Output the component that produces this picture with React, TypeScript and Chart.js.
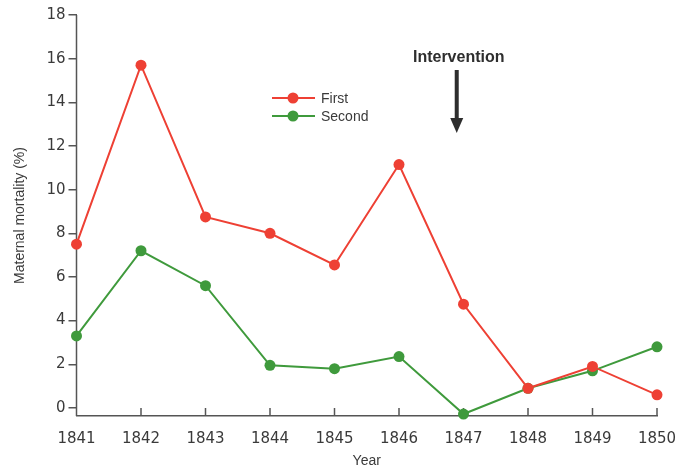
import React, { useEffect, useRef } from "react";
import { Chart, registerables } from "chart.js";

Chart.register(...registerables);

const years = ["1841", "1842", "1843", "1844", "1845", "1846", "1847", "1848", "1849", "1850"];
const firstClinic = [7.5, 15.7, 8.75, 8.0, 6.55, 11.15, 4.75, 0.9, 1.9, 0.6];
const secondClinic = [3.3, 7.2, 5.6, 1.95, 1.8, 2.35, -0.28, 0.9, 1.7, 2.8];
const yTicks = [0, 2, 4, 6, 8, 10, 12, 14, 16, 18];
const seriesNames = ["First", "Second"];
const seriesColors = ["#EE4034", "#3F9A3C"];
const interventionLabel = "Intervention";
const interventionIndex = 5.895;
const yTitle = "Maternal mortality (%)";
const xTitle = "Year";

const AXIS = "#555555";
const TEXT = "#3a3a3a";

const decorPlugin = {
  id: "decor",
  beforeDatasetsDraw(chart: any) {
    const { ctx, chartArea, scales } = chart;
    const xs = scales.x;
    const ys = scales.y;
    ctx.save();
    ctx.strokeStyle = AXIS;
    ctx.lineWidth = 1.5;
    const yl = chartArea.left;
    ctx.beginPath();
    ctx.moveTo(yl, ys.getPixelForValue(yTicks[yTicks.length - 1]));
    ctx.lineTo(yl, ys.getPixelForValue(yTicks[0]));
    ctx.stroke();
    years.forEach((_, i) => {
      const x = xs.getPixelForValue(i);
      ctx.beginPath();
      ctx.moveTo(x, chartArea.bottom);
      ctx.lineTo(x, chartArea.bottom - 8);
      ctx.stroke();
    });
    ctx.restore();
  },
  afterDraw(chart: any) {
    const { ctx, scales } = chart;
    const xs = scales.x;
    ctx.save();
    const legendX = 272;
    const legendY = [98, 116];
    seriesNames.forEach((name, i) => {
      const y = legendY[i];
      ctx.strokeStyle = seriesColors[i];
      ctx.lineWidth = 2;
      ctx.beginPath();
      ctx.moveTo(legendX, y);
      ctx.lineTo(legendX + 43, y);
      ctx.stroke();
      ctx.fillStyle = seriesColors[i];
      ctx.beginPath();
      ctx.arc(legendX + 21, y, 5.5, 0, Math.PI * 2);
      ctx.fill();
      ctx.fillStyle = TEXT;
      ctx.font = "14px 'Liberation Sans', Arial, sans-serif";
      ctx.textAlign = "left";
      ctx.textBaseline = "middle";
      ctx.fillText(name, legendX + 49, y + 1);
    });
    const ax = xs.getPixelForValue(interventionIndex);
    ctx.fillStyle = "#2e2e2e";
    ctx.font = "bold 16px 'Liberation Sans', Arial, sans-serif";
    ctx.textAlign = "center";
    ctx.textBaseline = "middle";
    ctx.fillText(interventionLabel, ax + 2, 58);
    ctx.fillRect(ax - 2, 70, 4, 49);
    ctx.beginPath();
    ctx.moveTo(ax - 6.5, 118);
    ctx.lineTo(ax + 6.5, 118);
    ctx.lineTo(ax, 133);
    ctx.closePath();
    ctx.fill();
    ctx.restore();
  },
};

export default function App() {
  const ref = useRef<HTMLCanvasElement | null>(null);
  useEffect(() => {
    if (!ref.current) return;
    const chart = new Chart(ref.current, {
      type: "line",
      data: {
        labels: years,
        datasets: [
          {
            label: seriesNames[0],
            data: firstClinic,
            borderColor: seriesColors[0],
            backgroundColor: seriesColors[0],
            borderWidth: 2,
            pointRadius: 5.5,
            pointBorderWidth: 0,
            tension: 0,
            clip: false as any,
          },
          {
            label: seriesNames[1],
            data: secondClinic,
            borderColor: seriesColors[1],
            backgroundColor: seriesColors[1],
            borderWidth: 2,
            pointRadius: 5.5,
            pointBorderWidth: 0,
            tension: 0,
            clip: false as any,
          },
        ],
      },
      options: {
        animation: false,
        responsive: true,
        maintainAspectRatio: false,
        layout: { padding: { top: 15, right: 23, left: 0, bottom: 0 } },
        plugins: { legend: { display: false }, tooltip: { enabled: false } },
        scales: {
          x: {
            type: "category",
            offset: false,
            grid: { display: false },
            border: { display: true, color: AXIS, width: 1.5 },
            ticks: {
              color: TEXT,
              font: { family: "'DejaVu Sans', sans-serif", size: 15 },
              padding: 6,
              maxRotation: 0,
              autoSkip: false,
            },
            title: {
              display: true,
              text: xTitle,
              color: TEXT,
              font: { family: "'Liberation Sans', Arial, sans-serif", size: 14 },
              padding: { top: 0, bottom: 0 },
            },
            afterFit: (s: any) => {
              s.height = 54;
              s.paddingRight = 0;
              s.paddingLeft = 0;
            },
          },
          y: {
            type: "linear",
            min: -0.37,
            max: 18,
            afterBuildTicks: (s: any) => {
              s.ticks = yTicks.map((v) => ({ value: v }));
            },
            grid: {
              display: true,
              drawOnChartArea: false,
              drawTicks: true,
              tickLength: 8,
              tickColor: AXIS,
              lineWidth: 1.5,
            },
            border: { display: false },
            ticks: {
              color: TEXT,
              font: { family: "'DejaVu Sans', sans-serif", size: 15 },
              padding: 3,
              callback: (v: any) => String(v),
            },
            title: {
              display: true,
              text: yTitle,
              color: TEXT,
              font: { family: "'Liberation Sans', Arial, sans-serif", size: 14 },
              padding: { top: 12, bottom: 0 },
            },
            afterFit: (s: any) => {
              s.width = 76.5;
            },
          },
        },
      },
      plugins: [decorPlugin],
    });
    return () => chart.destroy();
  }, []);
  return (
    <div style={{ position: "absolute", left: 0, top: 0, width: 680, height: 470, background: "#ffffff" }}>
      <canvas ref={ref} />
    </div>
  );
}
